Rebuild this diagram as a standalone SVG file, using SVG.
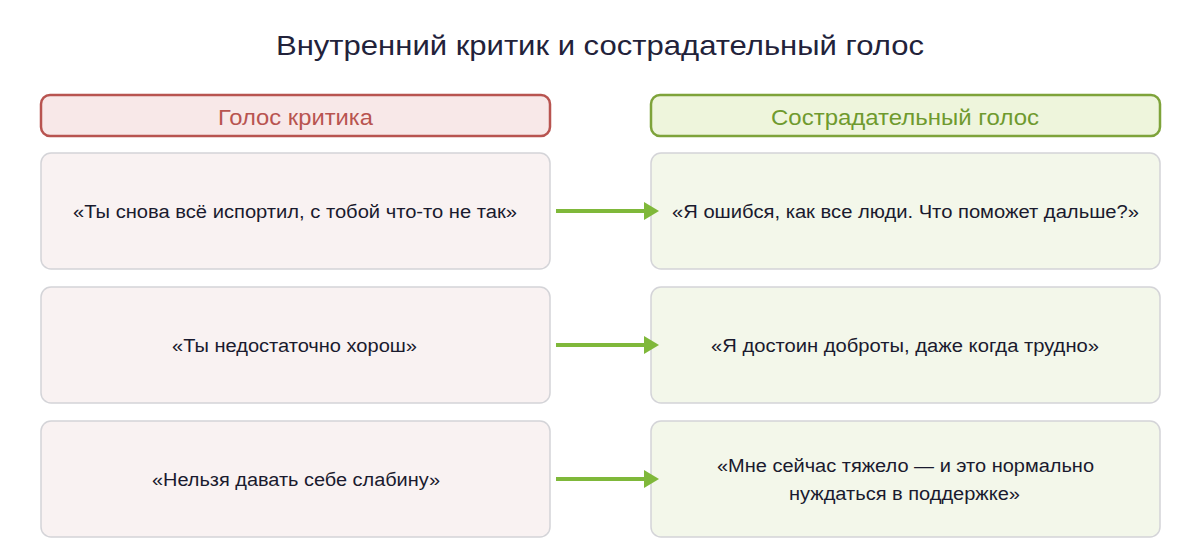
<svg xmlns="http://www.w3.org/2000/svg" width="1200" height="540" viewBox="0 0 1200 540">
<style>
text{font-family:"Liberation Sans",Arial,sans-serif;text-anchor:middle;dominant-baseline:central}
.title{font-size:28px;fill:#22223a}
.hc{fill:#f8e8e8;stroke:#b85450;stroke-width:2.5}
.hg{fill:#eef5dc;stroke:#7ea33a;stroke-width:2.5}
.htc{font-size:22px;fill:#b85450}
.htg{font-size:22px;fill:#6f9a2e}
.cc{fill:#f9f2f2;stroke:#d4d4d8;stroke-width:1.5}
.cg{fill:#f3f7ea;stroke:#d4d4d8;stroke-width:1.5}
.ct{font-size:18px;fill:#1a1a2e}
.arr{stroke:#7fb83a;stroke-width:4;fill:none}
.ah{fill:#7fb83a}
</style>
<rect width="1200" height="540" fill="#ffffff"/>
<text class="title" x="600" y="45" textLength="648" lengthAdjust="spacingAndGlyphs">Внутренний критик и сострадательный голос</text>
<g id="header-critic"><rect class="hc" x="41" y="95" width="509" height="41" rx="9"/><text class="htc" x="295.5" y="117" textLength="155" lengthAdjust="spacingAndGlyphs">Голос критика</text></g>
<g id="header-compassion"><rect class="hg" x="651" y="95" width="509" height="41" rx="9"/><text class="htg" x="905" y="117" textLength="268" lengthAdjust="spacingAndGlyphs">Сострадательный голос</text></g>
<g id="critic-1"><rect class="cc" x="41" y="153" width="509" height="116" rx="10"/><text class="ct" x="295" y="212" textLength="444" lengthAdjust="spacingAndGlyphs">«Ты снова всё испортил, с тобой что-то не так»</text></g>
<g id="critic-2"><rect class="cc" x="41" y="287" width="509" height="116" rx="10"/><text class="ct" x="294.5" y="346" textLength="245" lengthAdjust="spacingAndGlyphs">«Ты недостаточно хорош»</text></g>
<g id="critic-3"><rect class="cc" x="41" y="421" width="509" height="116" rx="10"/><text class="ct" x="296" y="480" textLength="288" lengthAdjust="spacingAndGlyphs">«Нельзя давать себе слабину»</text></g>
<g id="compassion-1"><rect class="cg" x="651" y="153" width="509" height="116" rx="10"/><text class="ct" x="905.5" y="212" textLength="467" lengthAdjust="spacingAndGlyphs">«Я ошибся, как все люди. Что поможет дальше?»</text></g>
<g id="compassion-2"><rect class="cg" x="651" y="287" width="509" height="116" rx="10"/><text class="ct" x="905" y="346" textLength="388" lengthAdjust="spacingAndGlyphs">«Я достоин доброты, даже когда трудно»</text></g>
<g id="compassion-3"><rect class="cg" x="651" y="421" width="509" height="116" rx="10"/><text class="ct" x="905.5" y="466" textLength="377" lengthAdjust="spacingAndGlyphs">«Мне сейчас тяжело — и это нормально</text><text class="ct" x="904.5" y="494" textLength="231" lengthAdjust="spacingAndGlyphs">нуждаться в поддержке»</text></g>
<g id="connectors">
<line class="arr" x1="556" y1="211" x2="646" y2="211"/><polygon class="ah" points="644,202 659,211 644,220"/>
<line class="arr" x1="556" y1="345" x2="646" y2="345"/><polygon class="ah" points="644,336 659,345 644,354"/>
<line class="arr" x1="556" y1="479" x2="646" y2="479"/><polygon class="ah" points="644,470 659,479 644,488"/>
</g>
</svg>
